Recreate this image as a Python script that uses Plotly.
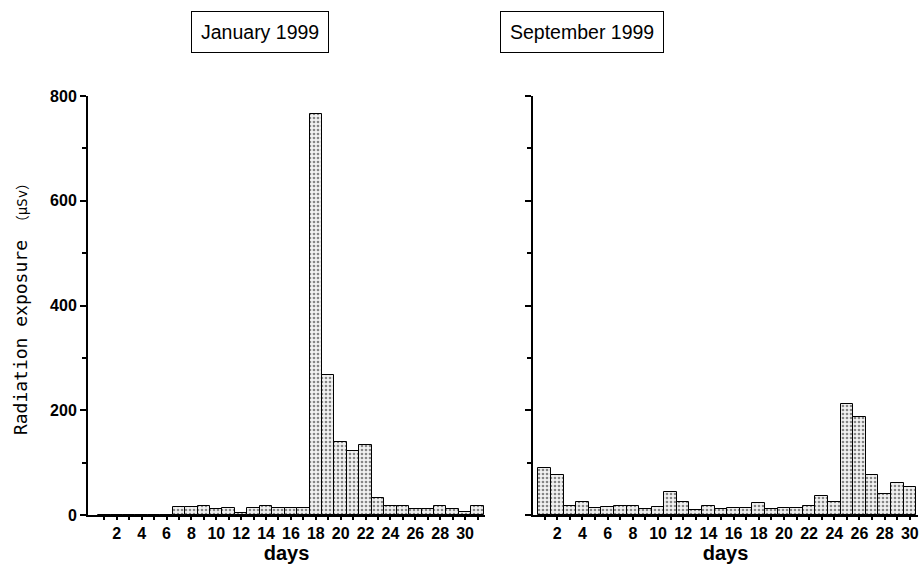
import plotly.graph_objects as go

jan_days = list(range(1, 32))
jan_values = [0, 0, 0, 0, 0, 0, 16, 16, 18, 11, 13, 3, 13, 18, 13, 13, 13,
              766, 268, 140, 123, 133, 32, 18, 18, 11, 11, 18, 11, 5, 18]

sep_days = list(range(1, 31))
sep_values = [89, 77, 17, 25, 13, 16, 17, 17, 11, 15, 44, 25, 10, 17, 11, 13, 13,
              22, 11, 13, 13, 17, 36, 25, 212, 188, 76, 40, 61, 53]

x_tickvals = list(range(1, 32))
x_ticktext = [str(d) if d % 2 == 0 else "" for d in x_tickvals]
y_tickvals = [0, 200, 400, 600, 800]

titles = ["January 1999", "September 1999"]
x_title = "days"
y_title = "Radiation exposure <span style='font-size:14px'>（μSv）</span>"

W, H = 919, 581
def px(x):
    return x / W
def py(y):
    return 1 - y / H

SANS = "Liberation Sans Narrow, Arial Narrow, Liberation Sans, Arial"
tick_font = dict(family=SANS, size=16, color="black", weight="bold")
title_font = dict(family=SANS, size=19.5, color="black")

bar_style = dict(
    marker=dict(
        color="#f2f2f2",
        line=dict(color="black", width=1),
        pattern=dict(shape=".", fgcolor="#1a1a1a", bgcolor="#f2f2f2", size=4, solidity=0.35),
    ),
    width=1.0,
    showlegend=False,
)

fig = go.Figure()
fig.add_trace(go.Bar(x=jan_days, y=jan_values, xaxis="x", yaxis="y", **bar_style))
fig.add_trace(go.Bar(x=sep_days, y=sep_values, xaxis="x2", yaxis="y2", **bar_style))

ydom = [py(515), py(96)]
common_x = dict(
    tickvals=x_tickvals, ticktext=x_ticktext, ticks="outside", ticklen=3, tickwidth=1.5,
    tickcolor="black", showline=True, linecolor="black", linewidth=2, showgrid=False,
    zeroline=False, tickfont=tick_font, automargin=False,
    title=dict(text=x_title, font=dict(family=SANS, size=20, color="black", weight="bold"), standoff=4),
)
common_y = dict(
    range=[0, 800], tickvals=y_tickvals, ticks="outside", ticklen=6, tickwidth=1.5,
    tickcolor="black", showline=True, linecolor="black", linewidth=2, showgrid=False,
    zeroline=False, tickfont=tick_font, automargin=False,
    minor=dict(dtick=100, ticks="outside", ticklen=4, tickcolor="black", tickwidth=1.5),
)

fig.update_layout(
    width=W, height=H,
    margin=dict(l=0, r=0, t=0, b=0, autoexpand=False),
    paper_bgcolor="white", plot_bgcolor="white",
    bargap=0,
    xaxis=dict(domain=[px(88), px(485)], range=[-0.31, 31.6], anchor="y", **common_x),
    yaxis=dict(domain=ydom, anchor="x",
               title=dict(text=y_title, font=dict(family="DejaVu Sans Mono, Noto Sans CJK JP", size=18, color="black"), standoff=18),
               **common_y),
    xaxis2=dict(domain=[px(533), px(918)], range=[0.07, 30.65], anchor="y2", **common_x),
    yaxis2=dict(domain=ydom, anchor="x2", showticklabels=False, **common_y),
    annotations=[
        dict(text=titles[0], x=px(260), y=py(31.5), xref="paper", yref="paper",
             showarrow=False, font=title_font, bordercolor="black", borderwidth=1,
             borderpad=9, bgcolor="white", xanchor="center", yanchor="middle"),
        dict(text=titles[1], x=px(581.5), y=py(31.5), xref="paper", yref="paper",
             showarrow=False, font=title_font, bordercolor="black", borderwidth=1,
             borderpad=9, bgcolor="white", xanchor="center", yanchor="middle"),
    ],
)

fig.write_html("out.html", config={"displayModeBar": False},
               post_script="document.body.style.margin='0';")
